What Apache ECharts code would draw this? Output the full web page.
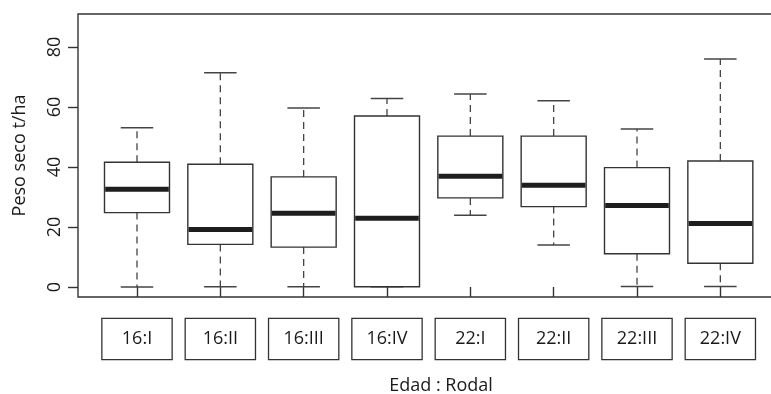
<!DOCTYPE html>
<html><head><meta charset="utf-8">
<script src="https://cdn.jsdelivr.net/npm/echarts@6/dist/echarts.min.js"></script>
<style>html,body{margin:0;padding:0;background:#fff}#c{width:771px;height:394px}</style>
</head><body><div id="c"></div>
<script>
const categories = ['16:I','16:II','16:III','16:IV','22:I','22:II','22:III','22:IV'];
const lowerWhisker = [0, 0.1, 0.1, 0.1, 23.9, 14.0, 0.2, 0.2];
const q1 = [24.8, 14.2, 13.3, 0.1, 29.7, 26.8, 11.1, 7.9];
const median = [32.6, 19.2, 24.6, 22.9, 36.9, 33.9, 27.2, 21.2];
const q3 = [41.6, 40.9, 36.7, 57.0, 50.3, 50.3, 39.8, 42.0];
const upperWhisker = [53.1, 71.4, 59.7, 62.8, 64.3, 62.1, 52.7, 76.0];
const yTitle = 'Peso seco t/ha';
const xTitle = 'Edad : Rodal';

const FONT = '"Open Sans", sans-serif';
const LINE = '#333333';
const TXT = '#1a1a1a';

const data = categories.map((c, i) => [i, lowerWhisker[i], q1[i], median[i], q3[i], upperWhisker[i]]);

function renderItem(params, api) {
  const i = api.value(0);
  const band = api.size([1, 0])[0];
  const boxW = band * 0.78;
  const capW = boxW / 2;
  const pLo = api.coord([i, api.value(1)]);
  const pQ1 = api.coord([i, api.value(2)]);
  const pMed = api.coord([i, api.value(3)]);
  const pQ3 = api.coord([i, api.value(4)]);
  const pHi = api.coord([i, api.value(5)]);
  const x = pMed[0];
  const dash = { stroke: '#444', lineWidth: 1.3, lineDash: [7, 5] };
  const solid = { stroke: '#444', lineWidth: 1.5 };
  return {
    type: 'group',
    children: [
      { type: 'line', shape: { x1: x, y1: pQ3[1], x2: x, y2: pHi[1] }, style: dash },
      { type: 'line', shape: { x1: x, y1: pQ1[1], x2: x, y2: pLo[1] }, style: dash },
      { type: 'line', shape: { x1: x - capW / 2, y1: pHi[1], x2: x + capW / 2, y2: pHi[1] }, style: solid },
      { type: 'line', shape: { x1: x - capW / 2, y1: pLo[1], x2: x + capW / 2, y2: pLo[1] }, style: solid },
      { type: 'rect', shape: { x: x - boxW / 2, y: pQ3[1], width: boxW, height: pQ1[1] - pQ3[1] },
        style: { fill: '#fff', stroke: LINE, lineWidth: 1.4 } },
      { type: 'line', shape: { x1: x - boxW / 2 + 0.7, y1: pMed[1], x2: x + boxW / 2 - 0.7, y2: pMed[1] },
        style: { stroke: '#1e1e1e', lineWidth: 5 } }
    ]
  };
}

const chart = echarts.init(document.getElementById('c'), null, { renderer: 'canvas' });
chart.setOption({
  animation: false,
  backgroundColor: '#fff',
  textStyle: { fontFamily: FONT },
  grid: [
    { left: 78, top: 14, width: 701, height: 283, show: true, borderColor: LINE, borderWidth: 1.4,
      backgroundColor: 'transparent', containLabel: false, outerBoundsMode: 'none' },
    { left: 95.33, top: 47, width: 666.67, height: 240, containLabel: false, outerBoundsMode: 'none' }
  ],
  xAxis: [
    { gridIndex: 0, type: 'value', show: false, min: 0, max: 1 },
    { gridIndex: 1, type: 'category', data: categories, boundaryGap: true, offset: 10,
      axisLine: { show: false },
      axisTick: { show: true, alignWithLabel: true, length: 10, lineStyle: { color: LINE, width: 1.4 } },
      axisLabel: { margin: 22, fontSize: 18, color: TXT, fontFamily: FONT,
        width: 69, height: 40, lineHeight: 40, align: 'center', borderColor: LINE, borderWidth: 1.3, padding: 0,
        backgroundColor: '#fff' },
      splitLine: { show: false } }
  ],
  yAxis: [
    { gridIndex: 0, type: 'value', show: true, min: 0, max: 1,
      axisLine: { show: false }, axisTick: { show: false }, axisLabel: { show: false }, splitLine: { show: false },
      name: yTitle, nameLocation: 'middle', nameGap: 49, nameRotate: 90,
      nameTextStyle: { fontSize: 18, color: TXT, fontFamily: FONT } },
    { gridIndex: 1, type: 'value', min: 0, max: 80, interval: 20, offset: 17.33,
      axisLine: { show: false },
      axisTick: { show: true, length: 10, lineStyle: { color: LINE, width: 1.4 } },
      axisLabel: { rotate: 90, margin: 14, fontSize: 18, color: TXT, fontFamily: FONT },
      splitLine: { show: false } }
  ],
  graphic: [
    { type: 'text', x: 441, y: 386, style: { text: xTitle, font: '18px ' + FONT, fill: TXT, textAlign: 'center', textVerticalAlign: 'middle' } }
  ],
  series: [{
    type: 'custom', xAxisIndex: 1, yAxisIndex: 1, data: data,
    encode: { x: 0, y: [1, 2, 3, 4, 5] },
    renderItem: renderItem, clip: false
  }]
});
</script></body></html>
